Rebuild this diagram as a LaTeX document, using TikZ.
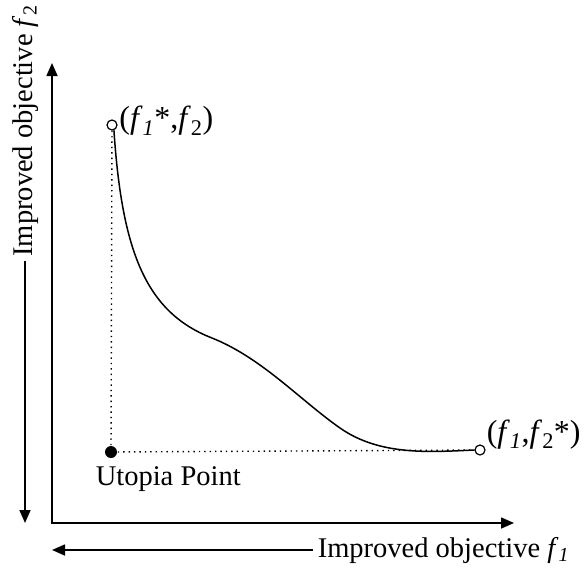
\documentclass[tikz,border=0pt]{standalone}
\usepackage{fontspec}
\setmainfont{Liberation Serif}
\usetikzlibrary{arrows.meta,positioning}

\begin{document}
\begin{tikzpicture}[x=1pt, y=-1pt, line width=1.6pt,
  axisarrow/.style={-{Triangle[length=13pt,width=11pt]}},
  opendot/.style={circle, draw, fill=white, line width=1.2pt, minimum size=10pt, inner sep=0pt},
  fulldot/.style={circle, fill=black, minimum size=12pt, inner sep=0pt},
  guide/.style={line width=1.4pt, dash pattern=on 1.4pt off 4pt},
  axislabel/.style={font=\fontsize{28.5}{34}\selectfont, inner sep=4pt},
  pointlabel/.style={font=\fontsize{32}{38}\selectfont, inner sep=0pt}]
\useasboundingbox (0,0) rectangle (584,571);
\coordinate (O) at (52,523); \coordinate (ytip) at (52,63); \coordinate (xtip) at (514,523);
\draw[{Triangle[length=13pt,width=11pt]}-{Triangle[length=13pt,width=11pt]}] (ytip) -- (O) -- (xtip);
\node[axislabel, rotate=90] (ylab) at (25,131) {Improved objective \textit{f}\textsubscript{2}};
\node[axislabel, anchor=west] (xlab) at (313,550) {Improved objective \textit{f}\textsubscript{\textit{1}}};
\draw[axisarrow] (ylab.west) -- (ylab.west |- O); \draw[axisarrow] (xlab.west) -- (xlab.west -| O);
% utopia point and the two extremes
\node[fulldot] (U) at (111,452) {};
\node[opendot] (A) at (112,125) {}; \node[opendot] (B) at (480,450) {};
\draw[guide] (A) -- (U) -- (B);
\draw[line width=1.5pt] (A.-70) .. controls (122,250) and (145,312) .. (212,338) .. controls (262,358) and (300,400) .. (340,428) .. controls (380,456) and (430,452) .. (B.west);
\node[pointlabel, right=1pt of A, yshift=4pt] (labA) {(\textit{f}\textsubscript{\textit{1}}*,\textit{f}\textsubscript{2})};
\node[pointlabel, above right=-4pt and 2pt of B] (labB) {(\textit{f}\textsubscript{\textit{1}},\textit{f}\textsubscript{2}*)};
\node[axislabel, anchor=north west, inner sep=0pt] (ulab) at (95,466) {Utopia Point};
\end{tikzpicture}
\end{document}
